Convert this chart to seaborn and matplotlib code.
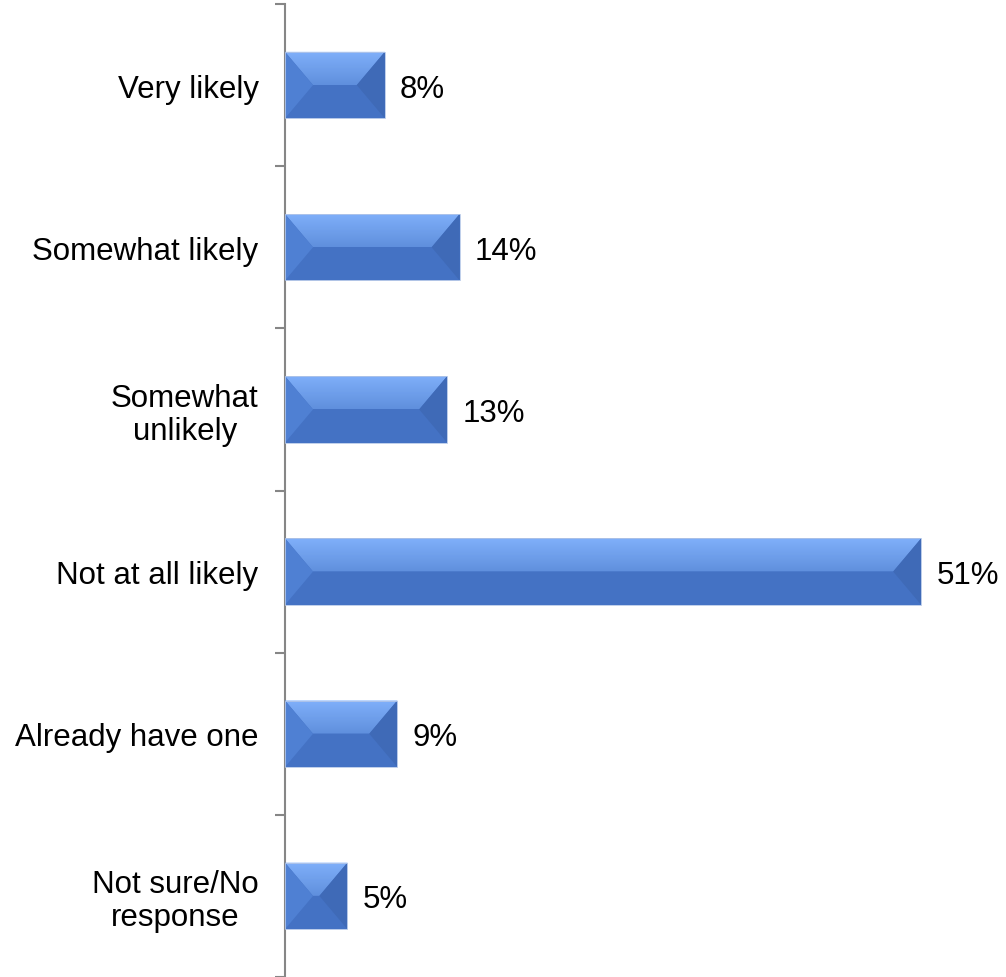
import matplotlib
matplotlib.use("Agg")
import matplotlib.pyplot as plt
import numpy as np
import pandas as pd
import seaborn as sns
from matplotlib.patches import Polygon
from matplotlib.colors import LinearSegmentedColormap

categories = ["Very likely", "Somewhat likely", "Somewhat\nunlikely",
              "Not at all likely", "Already have one", "Not sure/No\nresponse"]
values = [8, 14, 13, 51, 9, 5]
value_labels = ["8%", "14%", "13%", "51%", "9%", "5%"]

sns.set_theme(style="white")
plt.rcParams['font.family'] = ['Liberation Sans', 'DejaVu Sans']

W, H = 1006, 978
fig = plt.figure(figsize=(W / 100, H / 100), dpi=100)
ax = fig.add_axes([285 / W, 0.0, (996 - 285) / W, (H - 5) / H])

df = pd.DataFrame({"cat": categories, "val": values})
sns.barplot(data=df, y="cat", x="val", orient="h", color="#4472C4",
            width=0.41, ax=ax, saturation=1, edgecolor="none", linewidth=0)

ax.set_xlim(0, 57)
ax.set_ylim(len(categories) - 0.5, -0.5)
ax.set_xlabel("")
ax.set_ylabel("")

# bevel styling derived from each bar patch
fig.canvas.draw()
px_per_x = ax.transData.transform((1, 0))[0] - ax.transData.transform((0, 0))[0]
bev_px = 28
grad = LinearSegmentedColormap.from_list("g", ["#80B0FA", "#5F8FDD"])
bars = list(ax.patches)
for p, lab in zip(bars, value_labels):
    x0, y0 = p.get_x(), p.get_y()
    w, h = p.get_width(), p.get_height()
    x1, y1 = x0 + w, y0 + h  # y0 is visually top (inverted axis)
    d = min(bev_px / px_per_x, w / 2)
    ym = y0 + h / 2
    top = Polygon([(x0, y0), (x1, y0), (x1 - d, ym), (x0 + d, ym)], closed=True,
                  facecolor="none", edgecolor="none")
    ax.add_patch(top)
    im = ax.imshow(np.linspace(0, 1, 64).reshape(-1, 1), cmap=grad, aspect="auto",
                   extent=(x0, x1, ym, y0), zorder=3, interpolation="bilinear")
    im.set_clip_path(top)
    bottom = Polygon([(x0, y1), (x1, y1), (x1 - d, ym), (x0 + d, ym)], closed=True,
                     facecolor="#4472C4", edgecolor="none", zorder=3)
    ax.add_patch(bottom)
    left = Polygon([(x0, y0), (x0 + d, ym), (x0, y1)], closed=True,
                   facecolor="#4F80D3", edgecolor="none", zorder=3)
    ax.add_patch(left)
    right = Polygon([(x1, y0), (x1 - d, ym), (x1, y1)], closed=True,
                    facecolor="#3F6AB7", edgecolor="none", zorder=3)
    ax.add_patch(right)
    outline = Polygon([(x0, y0), (x1, y0), (x1, y1), (x0, y1)], closed=True,
                      facecolor="none", edgecolor="#B4C7E8", linewidth=0.6, zorder=4)
    ax.add_patch(outline)
    ax.annotate(lab, xy=(x1, ym), xytext=(11, -2.5), textcoords="offset points",
                ha="left", va="center", fontsize=22.5, color="black", zorder=5)

ax.set_xlim(0, 57)
ax.set_ylim(len(categories) - 0.5, -0.5)

# spines and ticks
for s in ["top", "right", "bottom"]:
    ax.spines[s].set_visible(False)
ax.spines["left"].set_color("#868686")
ax.spines["left"].set_linewidth(1.5)
ax.set_xticks([])
bounds = np.arange(-0.5, len(categories), 1.0)
ax.set_yticks(bounds)
ax.set_yticklabels([])
ax.set_yticks(np.arange(len(categories)), minor=True)
ax.set_yticklabels(categories, minor=True, fontsize=22.5, ha="right",
                   multialignment="center", linespacing=1.12, color="black")
ax.tick_params(axis="y", which="major", length=7.2, width=1.5, color="#868686",
               direction="out", left=True)
ax.tick_params(axis="y", which="minor", length=0, pad=19, labelcolor="black")

fig.savefig("out.png", dpi=100)
